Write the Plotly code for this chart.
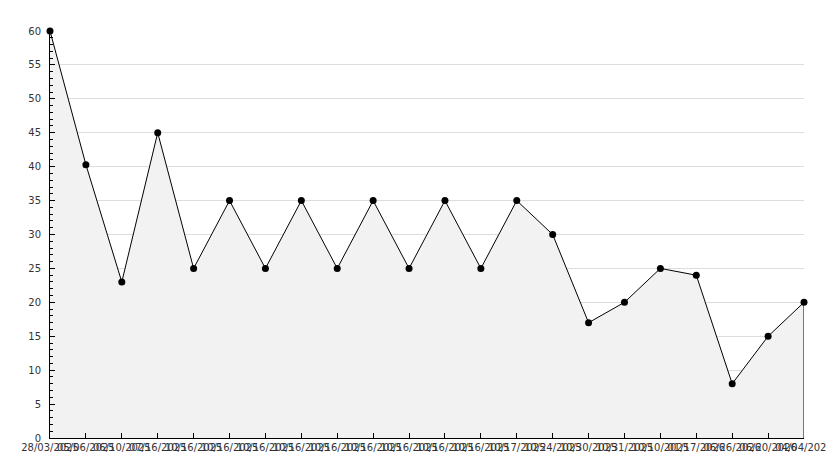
import plotly.graph_objects as go

labels = ["28/03/2025", "05/06/2025", "06/10/2025", "07/16/2025", "10/16/2025",
          "10/16/2025", "10/16/2025", "10/16/2025", "10/16/2025", "10/16/2025",
          "10/16/2025", "10/16/2025", "10/16/2025", "10/17/2025", "10/24/2025",
          "10/30/2025", "10/31/2025", "10/10/2025", "01/17/2026", "06/26/2026",
          "06/20/2026", "04/04/2025"]
values = [60, 40.3, 23, 45, 25, 35, 25, 35, 25, 35, 25, 35, 25, 35, 30, 17, 20, 25, 24, 8, 15, 20]
idx = list(range(len(values)))

fig = go.Figure()
fig.add_trace(go.Scatter(
    x=idx, y=values, mode="lines+markers", fill="tozeroy",
    fillcolor="#f2f2f2", line=dict(color="black", width=1),
    marker=dict(color="black", size=7, symbol="circle"),
    showlegend=False, hoverinfo="skip", cliponaxis=False))
# closing edge of the filled area at the last point
fig.add_trace(go.Scatter(
    x=[idx[-1], idx[-1]], y=[0, values[-1]], mode="lines",
    line=dict(color="black", width=1), showlegend=False, hoverinfo="skip"))

font = dict(family="DejaVu Sans", size=10, color="#333333")
fig.update_layout(
    width=834, height=468,
    margin=dict(l=42, r=38, t=23, b=38),
    paper_bgcolor="white", plot_bgcolor="white",
    font=font,
    xaxis=dict(range=[0, len(values) - 1], tickmode="array", tickvals=idx, ticktext=labels,
               showgrid=False, zeroline=False, showline=True, linecolor="black", linewidth=1,
               ticks="inside", ticklen=5, tickcolor="black", tickangle=0, tickfont=font,
               automargin=False),
    yaxis=dict(range=[0, 60], dtick=5, showgrid=True, gridcolor="#dddddd", gridwidth=1,
               zeroline=False, showline=True, linecolor="black", linewidth=1,
               ticks="inside", ticklen=5, tickcolor="black", ticklabelstandoff=6,
               minor=dict(dtick=1, ticks="inside", ticklen=3, tickcolor="black", showgrid=False),
               tickfont=font, automargin=False),
)
fig.write_html("out.html")
